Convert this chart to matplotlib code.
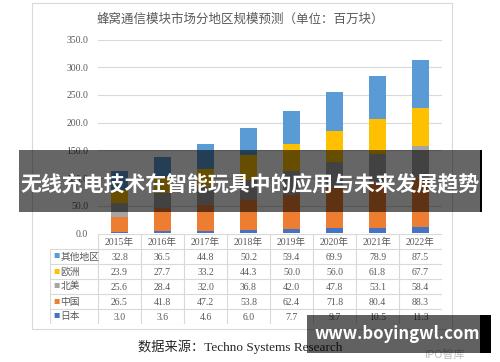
import matplotlib
matplotlib.use("Agg")
import matplotlib.pyplot as plt
from matplotlib.patches import Rectangle
import numpy as np

years = ["2015年", "2016年", "2017年", "2018年", "2019年", "2020年", "2021年", "2022年"]
japan = [3.0, 3.6, 4.6, 6.0, 7.7, 9.7, 10.5, 11.3]
china = [26.5, 41.8, 47.2, 53.8, 62.4, 71.8, 80.4, 88.3]
namerica = [25.6, 28.4, 32.0, 36.8, 42.0, 47.8, 53.1, 58.4]
europe = [23.9, 27.7, 33.2, 44.3, 50.0, 56.0, 61.8, 67.7]
others = [32.8, 36.5, 44.8, 50.2, 59.4, 69.9, 78.9, 87.5]

series_names = ["日本", "中国", "北美", "欧洲", "其他地区"]
series_vals = [japan, china, namerica, europe, others]
colors = ["#4472C4", "#ED7D31", "#A5A5A5", "#FFC000", "#5B9BD5"]

title = "蜂窝通信模块市场分地区规模预测（单位：百万块）"
source = "数据来源：Techno Systems Research"
banner = "无线充电技术在智能玩具中的应用与未来发展趋势"
watermark = "www.boyingwl.com"

W, H = 500, 362
fig = plt.figure(figsize=(W / 100, H / 100), dpi=100)
fig.patch.set_facecolor("white")

def fx(px):
    return px / W

def fy(py):
    return 1 - py / H

SERIF = ["Liberation Serif", "Noto Sans CJK SC"]
CJK = ["Noto Sans CJK SC", "DejaVu Sans"]
grid_c = "#D9D9D9"
txt_c = "#595959"

# outer chart frame
fig.add_artist(Rectangle((fx(32), fy(329)), fx(452) - fx(32), fy(3) - fy(329),
                         transform=fig.transFigure, fill=False, edgecolor=grid_c, lw=0.8))

# main axes
x0, x1 = 98, 442
y_top, y_bot = 39.5, 233.4
ax = fig.add_axes([fx(x0), fy(y_bot), fx(x1) - fx(x0), fy(y_top) - fy(y_bot)])
x = np.arange(len(years))
bottom = np.zeros(len(years))
for name, vals, c in zip(series_names, series_vals, colors):
    ax.bar(x, vals, width=0.4, bottom=bottom, color=c, zorder=3)
    bottom += np.array(vals)
ax.set_xlim(-0.5, len(years) - 0.5)
ax.set_ylim(0, 350)
ax.set_yticks(np.arange(0, 351, 50))
ax.set_yticklabels([f"{v:.1f}" for v in np.arange(0, 351, 50)], fontfamily=SERIF,
                   fontsize=7, color=txt_c)
ax.tick_params(axis="y", length=0, pad=7)
ax.set_xticks([])
ax.grid(axis="y", color=grid_c, lw=0.8, zorder=0)
for s in ax.spines.values():
    s.set_visible(False)

# data table
t_left = 50
col_w = (x1 - x0) / len(years)
tx0 = -0.5 - (x0 - t_left) / col_w
tax = fig.add_axes([fx(t_left), fy(324), fx(x1) - fx(t_left), fy(234) - fy(324)])
tax.set_xlim(tx0, len(years) - 0.5)
tax.set_ylim(6, 0)
tax.axis("off")
rows = list(zip(series_names, series_vals, colors))[::-1]
tax.hlines(0, -0.5, len(years) - 0.5, color=grid_c, lw=0.8)
for r in range(1, 7):
    tax.hlines(r, tx0, len(years) - 0.5, color=grid_c, lw=0.8)
tax.vlines(tx0, 1, 6, color=grid_c, lw=0.8)
for i in range(len(years) + 1):
    tax.vlines(i - 0.5, 0, 6, color=grid_c, lw=0.8)
for i, yl in enumerate(years):
    tax.text(i, 0.55, yl, ha="center", va="center", fontsize=7, color=txt_c, family=SERIF)
for r, (name, vals, c) in enumerate(rows, start=1):
    tax.text(tx0 + 0.08, r + 0.5, "■", ha="left", va="center", fontsize=4.5, color=c, family=CJK)
    tax.text(tx0 + 0.24, r + 0.5, name, ha="left", va="center", fontsize=7, color=txt_c, family=CJK)
    for i, v in enumerate(vals):
        tax.text(i, r + 0.55, f"{v:.1f}", ha="center", va="center", fontsize=7,
                 color=txt_c, family=SERIF)

# title and source
fig.text(fx(240), fy(19), title, ha="center", va="center", fontsize=9, color=txt_c, family=CJK)
fig.text(fx(240), fy(347), source, ha="center", va="center", fontsize=9.5, color="#262626",
         family=SERIF)

# banner overlay
fig.add_artist(Rectangle((fx(19), fy(212)), fx(480) - fx(19), fy(150) - fy(212),
                         transform=fig.transFigure, facecolor="black", alpha=0.6,
                         edgecolor="none", zorder=10))
fig.add_artist(Rectangle((fx(480), fy(212)), fx(482) - fx(480), fy(150) - fy(212),
                         transform=fig.transFigure, facecolor="black",
                         edgecolor="none", zorder=10))
fig.text(fx(250), fy(185), banner, ha="center", va="center", fontsize=15, color="white",
         fontweight="bold", family=CJK, zorder=11)

# watermark
fig.text(fx(445), fy(355), "IPO智库", ha="center", va="center", fontsize=8, color="#BBBBBB",
         family=CJK, zorder=9)
fig.add_artist(Rectangle((fx(307), fy(353)), fx(480) - fx(307), fy(315) - fy(353),
                         transform=fig.transFigure, facecolor="black", alpha=0.62,
                         edgecolor="none", zorder=10))
fig.add_artist(Rectangle((fx(480), fy(353)), fx(491) - fx(480), fy(315) - fy(353),
                         transform=fig.transFigure, facecolor="black",
                         edgecolor="none", zorder=10))
fig.text(fx(397), fy(334), watermark, ha="center", va="center", fontsize=12, color="white",
         fontweight="bold", family=CJK, zorder=11)

fig.savefig("out.png", dpi=100)
